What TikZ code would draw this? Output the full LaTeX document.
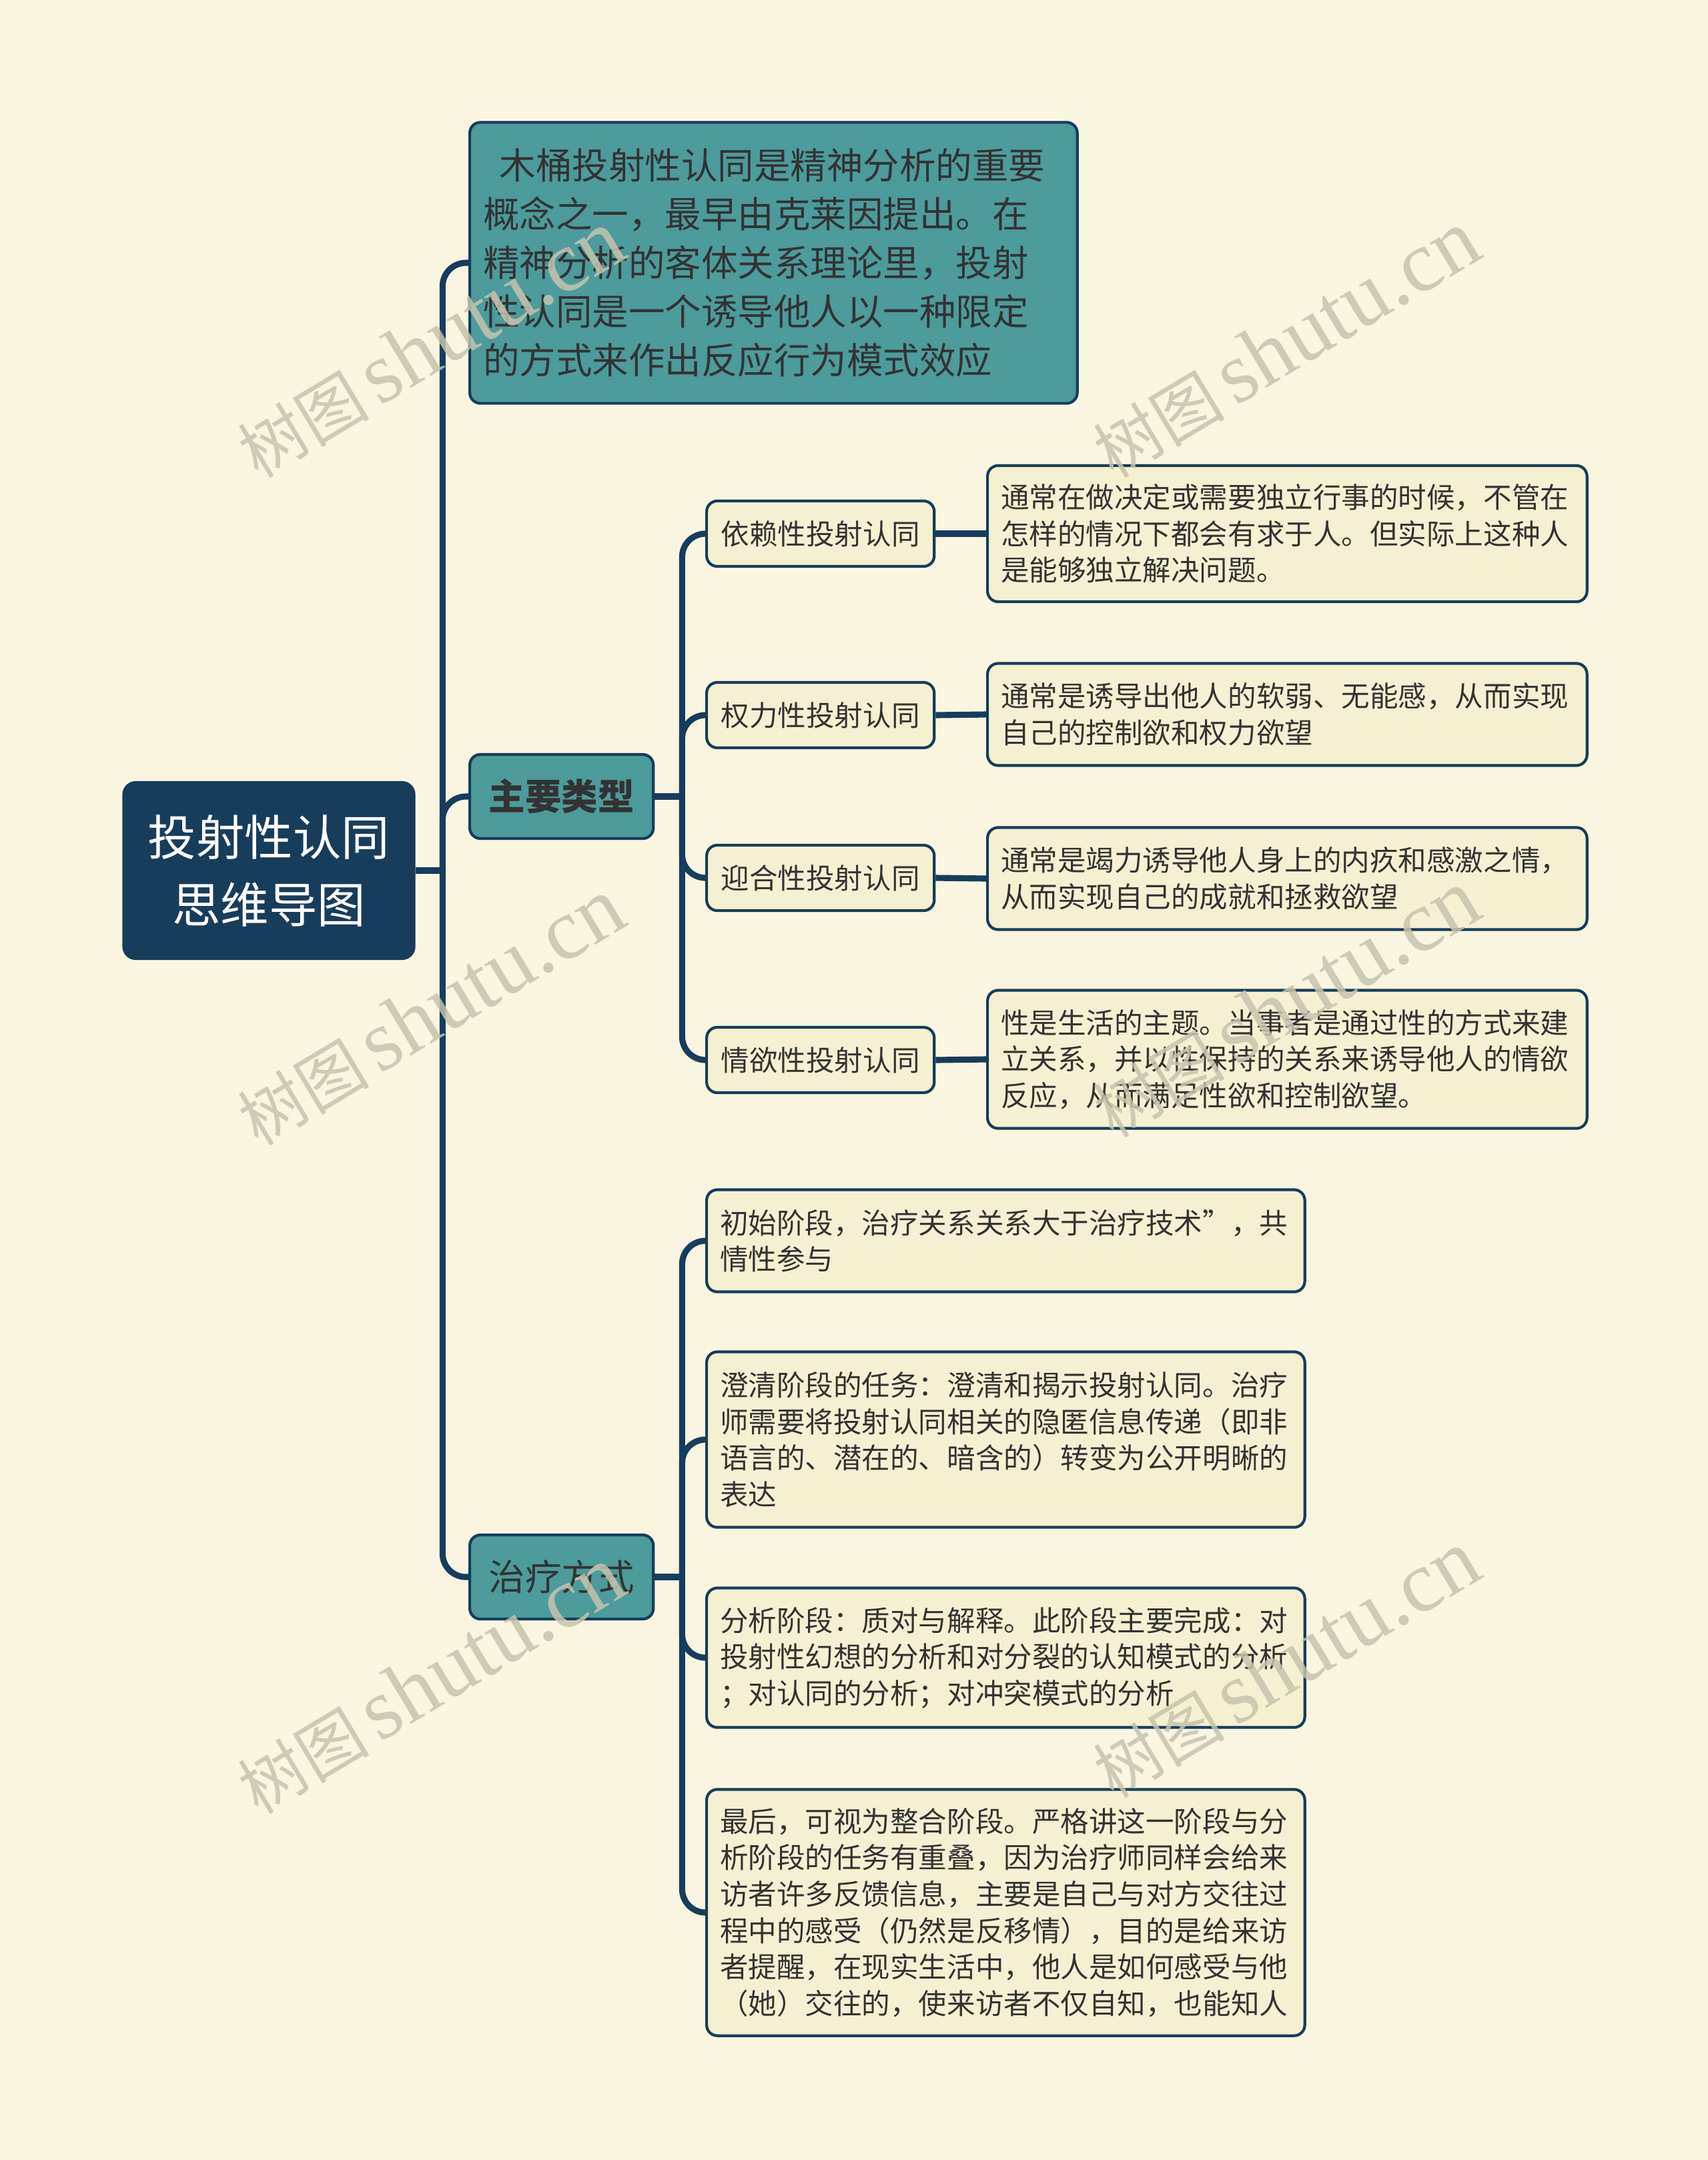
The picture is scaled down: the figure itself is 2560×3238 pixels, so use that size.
\documentclass[tikz,border=0pt]{standalone}
\usepackage{fontspec}
\setmainfont{Noto Sans CJK SC}
\newfontfamily\wmlat{Liberation Serif}
\definecolor{bgc}{HTML}{FAF5E1}
\definecolor{navy}{HTML}{173D5C}
\definecolor{tealc}{HTML}{4D9B9B}
\definecolor{leafc}{HTML}{F6F0D2}
\definecolor{ink}{HTML}{333333}
\definecolor{wm}{HTML}{C6C3AE}
\tikzset{
  root/.style={fill=navy,text=white,rounded corners=0.2cm,align=center,font=\fontsize{20.6}{28.7}\selectfont},
  tp/.style={fill=tealc,draw=navy,line width=1.2pt,rounded corners=0.16cm,text=ink,anchor=west,inner xsep=0.2cm},
  sub/.style={fill=leafc,draw=navy,line width=1.2pt,rounded corners=0.16cm,text=ink,anchor=west,inner xsep=0.2cm,font=\fontsize{12.1}{15.5}\selectfont},
  lf/.style={sub,align=left},
  link/.style={draw=navy,line width=2.6pt,rounded corners=0.35cm},
  wmark/.style={text=wm,rotate=31,text opacity=0.85}
}

\begin{document}
\begin{tikzpicture}[x=0.01cm,y=-0.01cm]
\fill[bgc] (0,0) rectangle (2560,3238);
\node[root,minimum width=4.39cm,minimum height=2.68cm] (root) at (403,1305) {投射性认同\\思维导图};
\node[tp,text width=8.7cm,minimum height=4.21cm,align=left,font=\fontsize{15.5}{20.8}\selectfont] (intro) at (702,394) {\hspace*{0.45em}木桶投射性认同是精神分析的重要\\概念之一，最早由克莱因提出。在\\精神分析的客体关系理论里，投射\\性认同是一个诱导他人以一种限定\\的方式来作出反应行为模式效应};
\node[tp,minimum width=2.75cm,minimum height=1.26cm,font=\fontsize{15.5}{18}\selectfont\bfseries] (types) at (702,1194) {主要类型};
\node[tp,minimum width=2.75cm,minimum height=1.26cm,font=\fontsize{15.5}{18}\selectfont] (cure) at (702,2364) {治疗方式};

\node[sub,minimum width=3.41cm,minimum height=0.98cm] (dep) at (1057,800) {依赖性投射认同};
\node[sub,minimum width=3.41cm,minimum height=0.98cm] (pow) at (1057,1072) {权力性投射认同};
\node[sub,minimum width=3.41cm,minimum height=0.98cm] (ing) at (1057,1316) {迎合性投射认同};
\node[sub,minimum width=3.41cm,minimum height=0.98cm] (ero) at (1057,1589) {情欲性投射认同};

\node[lf,text width=8.58cm,minimum height=2.04cm] (depx) at (1478,800) {通常在做决定或需要独立行事的时候，不管在\\怎样的情况下都会有求于人。但实际上这种人\\是能够独立解决问题。};
\node[lf,text width=8.58cm,minimum height=1.53cm] (powx) at (1478,1071) {通常是诱导出他人的软弱、无能感，从而实现\\自己的控制欲和权力欲望};
\node[lf,text width=8.58cm,minimum height=1.53cm] (ingx) at (1478,1317) {通常是竭力诱导他人身上的内疚和感激之情，\\从而实现自己的成就和拯救欲望};
\node[lf,text width=8.58cm,minimum height=2.07cm] (erox) at (1478,1588) {性是生活的主题。当事者是通过性的方式来建\\立关系，并以性保持的关系来诱导他人的情欲\\反应，从而满足性欲和控制欲望。};

\node[lf,text width=8.56cm,minimum height=1.53cm] (st1) at (1057,1860) {初始阶段，治疗关系关系大于治疗技术”，共\\情性参与};
\node[lf,text width=8.56cm,minimum height=2.63cm] (st2) at (1057,2158) {澄清阶段的任务：澄清和揭示投射认同。治疗\\师需要将投射认同相关的隐匿信息传递（即非\\语言的、潜在的、暗含的）转变为公开明晰的\\表达};
\node[lf,text width=8.56cm,minimum height=2.09cm] (st3) at (1057,2485) {分析阶段：质对与解释。此阶段主要完成：对\\投射性幻想的分析和对分裂的认知模式的分析\\；对认同的分析；对冲突模式的分析};
\node[lf,text width=8.56cm,minimum height=3.69cm] (st4) at (1057,2867) {最后，可视为整合阶段。严格讲这一阶段与分\\析阶段的任务有重叠，因为治疗师同样会给来\\访者许多反馈信息，主要是自己与对方交往过\\程中的感受（仍然是反移情），目的是给来访\\者提醒，在现实生活中，他人是如何感受与他\\（她）交往的，使来访者不仅自知，也能知人};

\coordinate (j0) at ([xshift=0.4cm]root.east);
\coordinate (j1) at ([xshift=0.41cm]types.east);
\coordinate (j2) at ([xshift=0.41cm]cure.east);
\draw[link] (root.east) -- (j0);
\foreach \n in {intro,types,cure} \draw[link] (j0) |- (\n.west);
\draw[link] (types.east) -- (j1);
\foreach \n in {dep,pow,ing,ero} \draw[link] (j1) |- (\n.west);
\foreach \a in {dep,pow,ing,ero} \draw[link] (\a.east) -- (\a x.west);
\draw[link] (cure.east) -- (j2);
\foreach \n in {st1,st2,st3,st4} \draw[link] (j2) |- (\n.west);

\foreach \p [count=\i] in {(645,516),(1927,516),(645,1517),(1927,1505),(645,2519),(1927,2495)}
  \node[wmark] (wm\i) at \p {{\fontsize{28}{28}\selectfont 树图}\hspace{0.45em}{\wmlat\fontsize{37}{37}\selectfont shutu.cn}};
\end{tikzpicture}
\end{document}
